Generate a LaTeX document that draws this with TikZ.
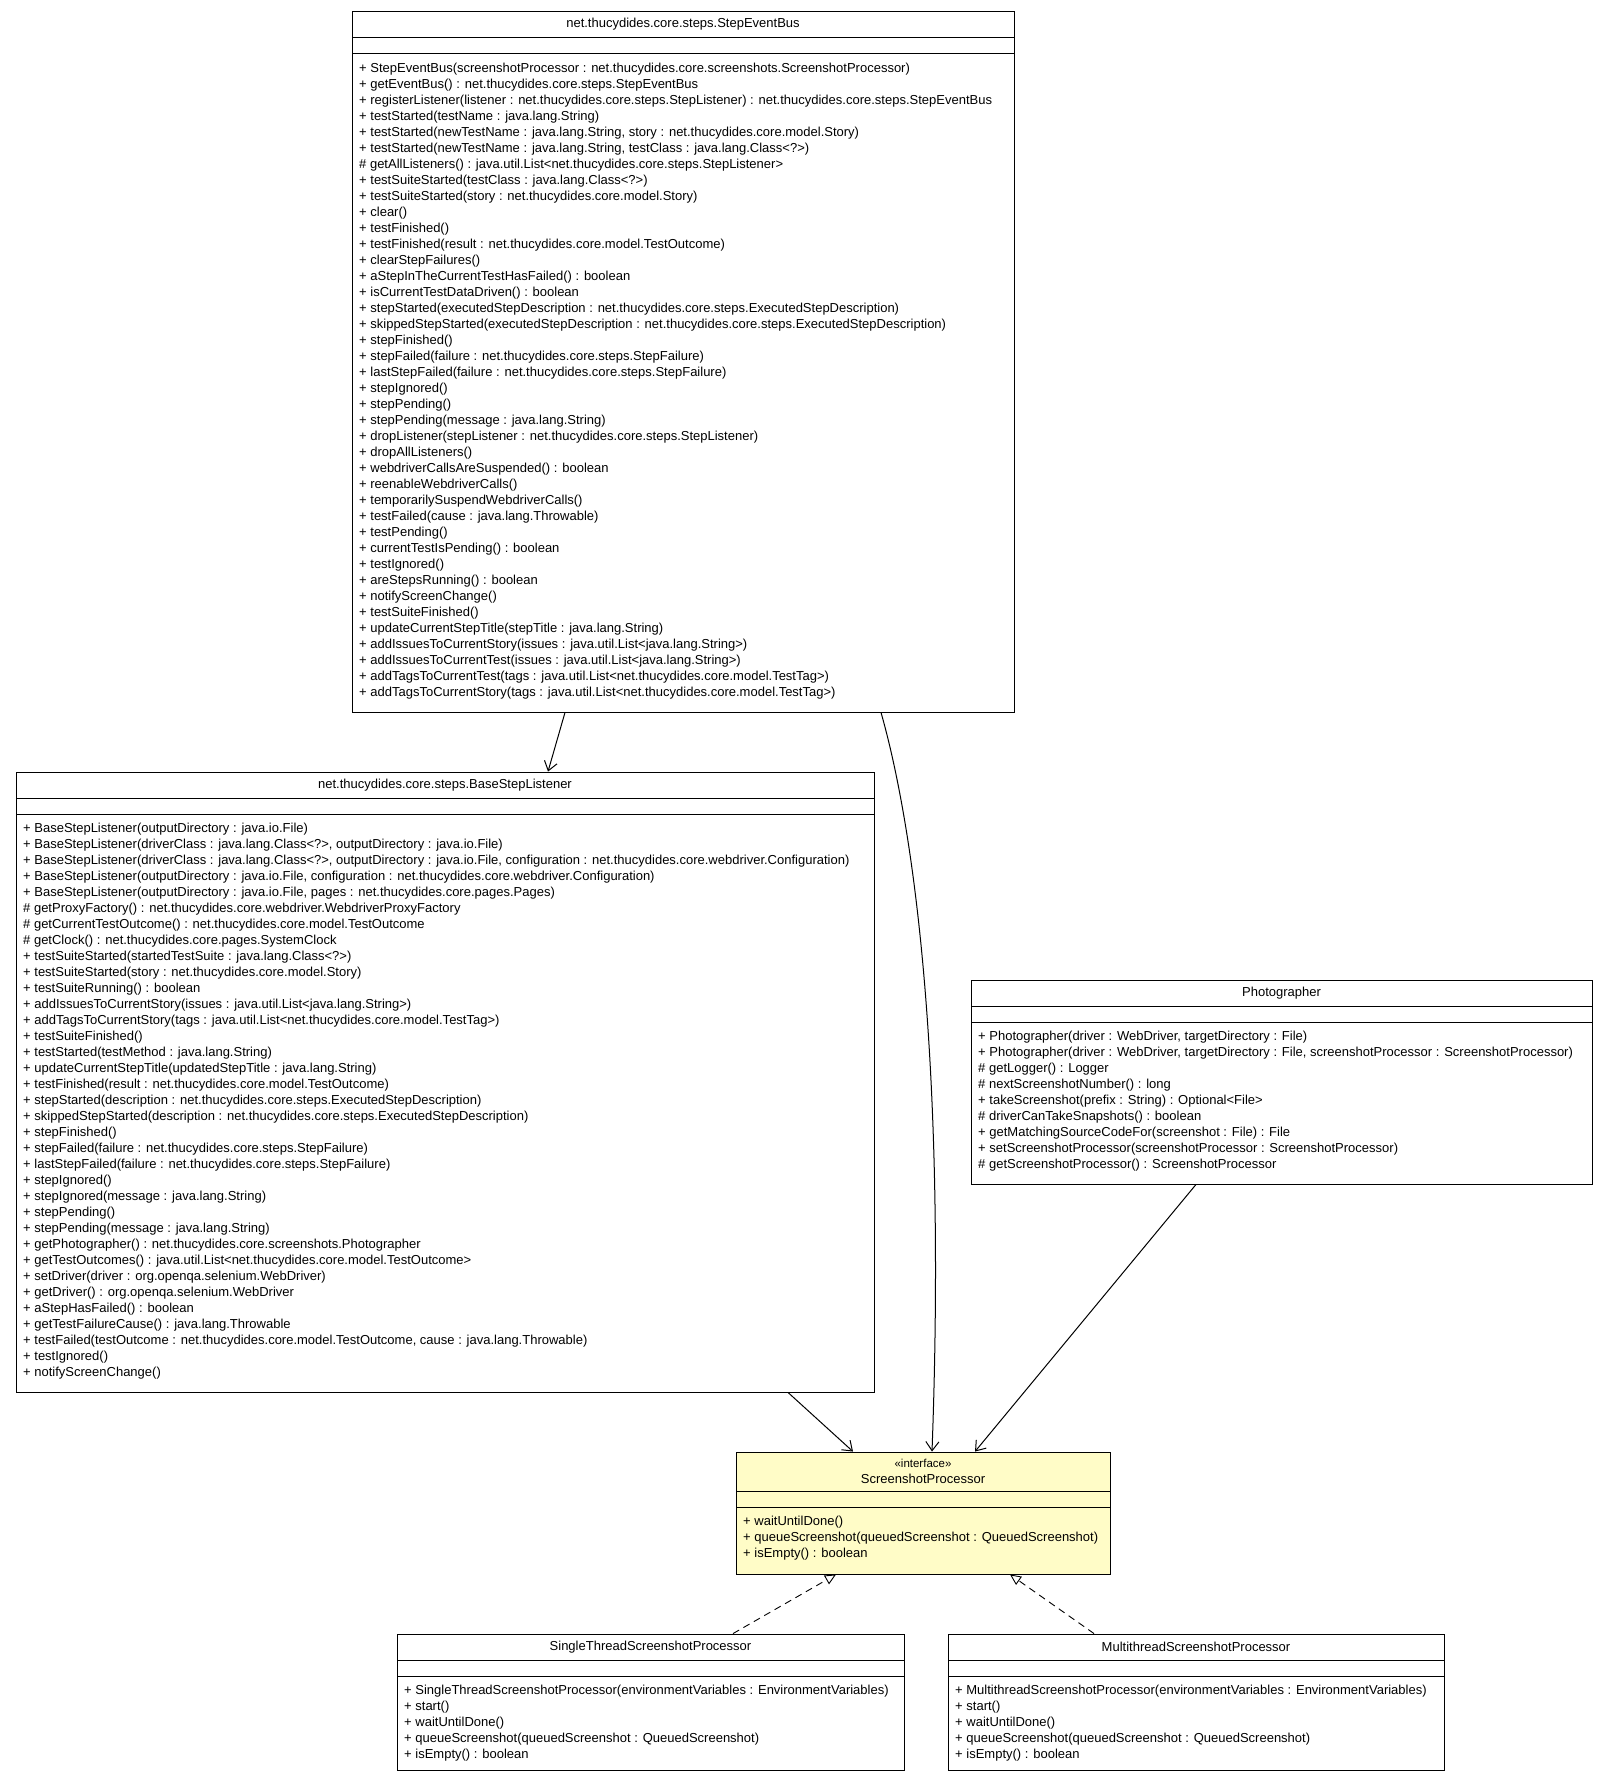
\documentclass[tikz,border=0pt]{standalone}
\usepackage{fontspec}
\setmainfont{Liberation Sans}
\usetikzlibrary{arrows.meta}
\begin{document}
\begin{tikzpicture}[x=1pt,y=-1pt,
  box/.style={draw,line width=0.9pt,inner sep=0pt},
  ttl/.style={inner sep=0pt,font=\fontsize{13}{16}\selectfont,align=center},
  mth/.style={inner sep=0pt,anchor=north west,font=\fontsize{13}{16}\selectfont,align=left},
  dep/.style={-{Straight Barb[length=9pt,width=13pt]},line width=1pt},
  real/.style={-{Triangle[open,length=11pt,width=10pt]},dashed,dash pattern=on 7pt off 5pt,line width=0.9pt}]
\useasboundingbox (0,0) rectangle (1603,1776);
\newcommand\cls[9]{%
  \node[box,minimum width=#4-#2,minimum height=#5-#3] (#1) at ({(#2+#4)/2},{(#3+#5)/2}) {};
  \draw[line width=0.9pt] (#2,#7) -- (#4,#7) (#2,#8) -- (#4,#8);
  \node[ttl] (#1-t) at ({(#2+#4)/2},{(#3+#7)/2}) {#6};
  \node[mth] (#1-m) at ({#2+7},{#8+9}) {#9};}
% StepEventBus
\cls{seb}{352}{11}{1014}{712}{net.thucydides.core.steps.StepEventBus}{37.5}{53.5}{%
+ StepEventBus(screenshotProcessor : net.thucydides.core.screenshots.ScreenshotProcessor)\\
+ getEventBus() : net.thucydides.core.steps.StepEventBus\\
+ registerListener(listener : net.thucydides.core.steps.StepListener) : net.thucydides.core.steps.StepEventBus\\
+ testStarted(testName : java.lang.String)\\
+ testStarted(newTestName : java.lang.String, story : net.thucydides.core.model.Story)\\
+ testStarted(newTestName : java.lang.String, testClass : java.lang.Class<?>)\\
\# getAllListeners() : java.util.List<net.thucydides.core.steps.StepListener>\\
+ testSuiteStarted(testClass : java.lang.Class<?>)\\
+ testSuiteStarted(story : net.thucydides.core.model.Story)\\
+ clear()\\
+ testFinished()\\
+ testFinished(result : net.thucydides.core.model.TestOutcome)\\
+ clearStepFailures()\\
+ aStepInTheCurrentTestHasFailed() : boolean\\
+ isCurrentTestDataDriven() : boolean\\
+ stepStarted(executedStepDescription : net.thucydides.core.steps.ExecutedStepDescription)\\
+ skippedStepStarted(executedStepDescription : net.thucydides.core.steps.ExecutedStepDescription)\\
+ stepFinished()\\
+ stepFailed(failure : net.thucydides.core.steps.StepFailure)\\
+ lastStepFailed(failure : net.thucydides.core.steps.StepFailure)\\
+ stepIgnored()\\
+ stepPending()\\
+ stepPending(message : java.lang.String)\\
+ dropListener(stepListener : net.thucydides.core.steps.StepListener)\\
+ dropAllListeners()\\
+ webdriverCallsAreSuspended() : boolean\\
+ reenableWebdriverCalls()\\
+ temporarilySuspendWebdriverCalls()\\
+ testFailed(cause : java.lang.Throwable)\\
+ testPending()\\
+ currentTestIsPending() : boolean\\
+ testIgnored()\\
+ areStepsRunning() : boolean\\
+ notifyScreenChange()\\
+ testSuiteFinished()\\
+ updateCurrentStepTitle(stepTitle : java.lang.String)\\
+ addIssuesToCurrentStory(issues : java.util.List<java.lang.String>)\\
+ addIssuesToCurrentTest(issues : java.util.List<java.lang.String>)\\
+ addTagsToCurrentTest(tags : java.util.List<net.thucydides.core.model.TestTag>)\\
+ addTagsToCurrentStory(tags : java.util.List<net.thucydides.core.model.TestTag>)}
% BaseStepListener
\cls{bsl}{16}{772}{874}{1392}{net.thucydides.core.steps.BaseStepListener}{798}{814}{%
+ BaseStepListener(outputDirectory : java.io.File)\\
+ BaseStepListener(driverClass : java.lang.Class<?>, outputDirectory : java.io.File)\\
+ BaseStepListener(driverClass : java.lang.Class<?>, outputDirectory : java.io.File, configuration : net.thucydides.core.webdriver.Configuration)\\
+ BaseStepListener(outputDirectory : java.io.File, configuration : net.thucydides.core.webdriver.Configuration)\\
+ BaseStepListener(outputDirectory : java.io.File, pages : net.thucydides.core.pages.Pages)\\
\# getProxyFactory() : net.thucydides.core.webdriver.WebdriverProxyFactory\\
\# getCurrentTestOutcome() : net.thucydides.core.model.TestOutcome\\
\# getClock() : net.thucydides.core.pages.SystemClock\\
+ testSuiteStarted(startedTestSuite : java.lang.Class<?>)\\
+ testSuiteStarted(story : net.thucydides.core.model.Story)\\
+ testSuiteRunning() : boolean\\
+ addIssuesToCurrentStory(issues : java.util.List<java.lang.String>)\\
+ addTagsToCurrentStory(tags : java.util.List<net.thucydides.core.model.TestTag>)\\
+ testSuiteFinished()\\
+ testStarted(testMethod : java.lang.String)\\
+ updateCurrentStepTitle(updatedStepTitle : java.lang.String)\\
+ testFinished(result : net.thucydides.core.model.TestOutcome)\\
+ stepStarted(description : net.thucydides.core.steps.ExecutedStepDescription)\\
+ skippedStepStarted(description : net.thucydides.core.steps.ExecutedStepDescription)\\
+ stepFinished()\\
+ stepFailed(failure : net.thucydides.core.steps.StepFailure)\\
+ lastStepFailed(failure : net.thucydides.core.steps.StepFailure)\\
+ stepIgnored()\\
+ stepIgnored(message : java.lang.String)\\
+ stepPending()\\
+ stepPending(message : java.lang.String)\\
+ getPhotographer() : net.thucydides.core.screenshots.Photographer\\
+ getTestOutcomes() : java.util.List<net.thucydides.core.model.TestOutcome>\\
+ setDriver(driver : org.openqa.selenium.WebDriver)\\
+ getDriver() : org.openqa.selenium.WebDriver\\
+ aStepHasFailed() : boolean\\
+ getTestFailureCause() : java.lang.Throwable\\
+ testFailed(testOutcome : net.thucydides.core.model.TestOutcome, cause : java.lang.Throwable)\\
+ testIgnored()\\
+ notifyScreenChange()}
% Photographer
\cls{pho}{971}{980}{1592}{1184}{Photographer}{1006}{1022}{%
+ Photographer(driver : WebDriver, targetDirectory : File)\\
+ Photographer(driver : WebDriver, targetDirectory : File, screenshotProcessor : ScreenshotProcessor)\\
\# getLogger() : Logger\\
\# nextScreenshotNumber() : long\\
+ takeScreenshot(prefix : String) : Optional<File>\\
\# driverCanTakeSnapshots() : boolean\\
+ getMatchingSourceCodeFor(screenshot : File) : File\\
+ setScreenshotProcessor(screenshotProcessor : ScreenshotProcessor)\\
\# getScreenshotProcessor() : ScreenshotProcessor}
% ScreenshotProcessor
\fill[fill=yellow!22] (736,1452) rectangle (1110,1574);
\cls{sp}{736}{1452}{1110}{1574}{\fontsize{11.5}{16}\selectfont «interface»\\ScreenshotProcessor}{1491}{1507}{%
+ waitUntilDone()\\
+ queueScreenshot(queuedScreenshot : QueuedScreenshot)\\
+ isEmpty() : boolean}
% SingleThread
\cls{st}{397}{1634}{904}{1770}{SingleThreadScreenshotProcessor}{1660}{1676}{%
+ SingleThreadScreenshotProcessor(environmentVariables : EnvironmentVariables)\\
+ start()\\
+ waitUntilDone()\\
+ queueScreenshot(queuedScreenshot : QueuedScreenshot)\\
+ isEmpty() : boolean}
% Multithread
\cls{mt}{948}{1634}{1444}{1770}{MultithreadScreenshotProcessor}{1660}{1676}{%
+ MultithreadScreenshotProcessor(environmentVariables : EnvironmentVariables)\\
+ start()\\
+ waitUntilDone()\\
+ queueScreenshot(queuedScreenshot : QueuedScreenshot)\\
+ isEmpty() : boolean}
% connectors
\draw[dep] (seb.south -| 565,0) -- (bsl.north -| 548,0);
\draw[dep] (seb.south -| 881,0) .. controls (920,850) and (945,1100) .. (sp.north -| 932,0);
\draw[dep] (bsl.south -| 788,0) -- (sp.north -| 853,0);
\draw[dep] (pho.south -| 1196,0) -- (sp.north -| 975,0);
\draw[real] (st.north -| 733,0) -- (sp.south -| 836,0);
\draw[real] (mt.north -| 1094,0) -- (sp.south -| 1010,0);
\end{tikzpicture}
\end{document}
